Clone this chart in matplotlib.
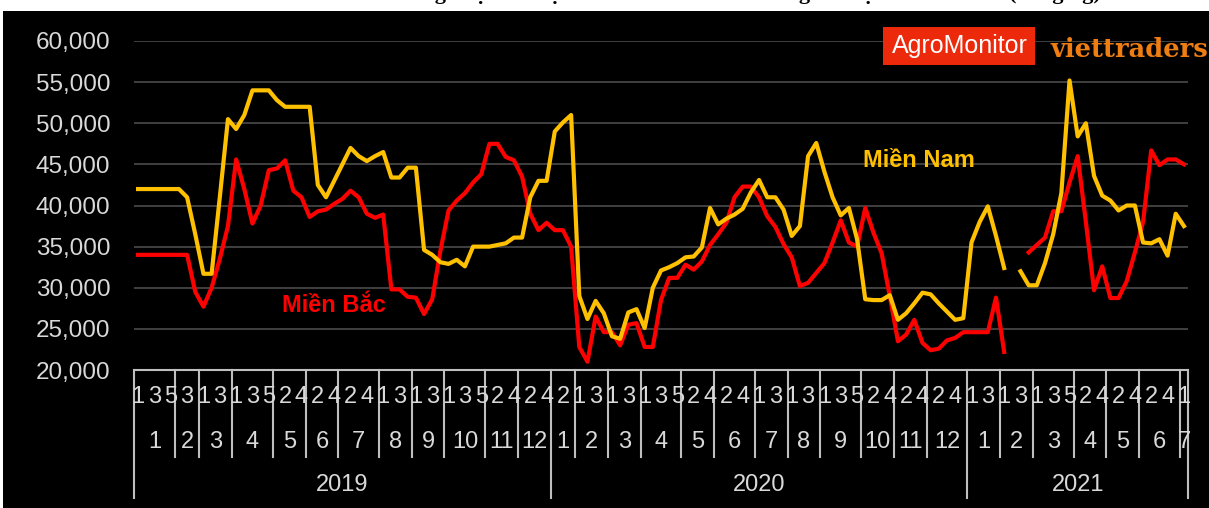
import numpy as np
import matplotlib
matplotlib.use("Agg")
import matplotlib.pyplot as plt
from matplotlib.patches import Rectangle
import matplotlib.transforms as mtransforms

# ---------------- data ----------------
years = ["2019", "2020", "2021"]
weeks_2019 = [[1, 2, 3, 4, 5], [2, 3, 4], [1, 2, 3, 4], [1, 2, 3, 4, 5], [1, 2, 3, 4], [1, 2, 3, 4],
              [1, 2, 3, 4, 5], [1, 2, 3, 4], [1, 2, 3, 4], [1, 2, 3, 4, 5], [1, 2, 3, 4], [1, 2, 3, 4]]
weeks_2020 = [[1, 2, 3], [1, 2, 3, 4], [1, 2, 3, 4], [1, 2, 3, 4, 5], [1, 2, 3, 4], [1, 2, 3, 4, 5],
              [1, 2, 3, 4], [1, 2, 3, 4], [1, 2, 3, 4, 5], [1, 2, 3, 4], [1, 2, 3, 4], [1, 2, 3, 4, 5]]
weeks_2021 = [[1, 2, 3, 4], [1, 2, 3, 4], [1, 2, 3, 4, 5], [1, 2, 3, 4], [1, 2, 3, 4], [1, 2, 3, 4, 5], [1]]
weeks_by_year = [weeks_2019, weeks_2020, weeks_2021]

nan = np.nan
mien_bac = [
    34000, 34000, 34000, 34000, 34000, 34000, 34000, 29500, 27700, 30000,
    33500, 37500, 45600, 42000, 37800, 40000, 44300, 44500, 45500, 41800,
    41000, 38600, 39300, 39500, 40200, 40800, 41800, 41000, 39000, 38500,
    38900, 29800, 29800, 28900, 28800, 26800, 28600, 34500, 39400, 40600,
    41500, 42800, 43800, 47500, 47500, 45900, 45500, 43500, 39000, 37000,
    37900, 37000, 37000, 35000, 22800, 21000, 26500, 24600, 24600, 23000,
    25500, 25700, 22800, 22800, 28500, 31200, 31200, 32800, 32200, 33200,
    35200, 36500, 37900, 41000, 42300, 42300, 41000, 38700, 37400, 35300,
    33700, 30200, 30600, 31800, 33000, 35500, 38200, 35500, 35000, 39700,
    36700, 34200, 29000, 23500, 24300, 26100, 23300, 22400, 22600, 23600,
    23900, 24600, 24600, 24600, 24600, 28800, 22200, nan, nan, 34300,
    35200, 36100, 39300, 39300, 42800, 46000, 38000, 29700, 32600, 28750,
    28750, 30800, 34300, 38000, 46700, 44900, 45600, 45600, 45000]

mien_nam = [
    42000, 42000, 42000, 42000, 42000, 42000, 41000, 36500, 31700, 31700,
    41000, 50500, 49300, 51000, 54000, 54000, 54000, 52800, 52000, 52000,
    52000, 52000, 42500, 41000, 43000, 45000, 47000, 46000, 45400, 46000,
    46500, 43400, 43400, 44600, 44600, 34600, 34000, 33100, 32900, 33400,
    32600, 35000, 35000, 35000, 35200, 35400, 36100, 36100, 41000, 43000,
    43000, 49000, 50100, 51000, 29000, 26200, 28400, 26900, 24100, 23800,
    27000, 27400, 25100, 30000, 32100, 32500, 33000, 33700, 33800, 34900,
    39700, 37700, 38400, 38900, 39600, 41600, 43100, 41000, 41000, 39500,
    36300, 37500, 46000, 47600, 44100, 41000, 38800, 39700, 35900, 28600,
    28500, 28500, 29100, 26100, 26900, 28100, 29400, 29200, 28100, 27100,
    26100, 26300, 35500, 38000, 39900, 36300, 32400, nan, 32000, 30300,
    30300, 33000, 36500, 41500, 55200, 48400, 50000, 43600, 41200, 40600,
    39400, 40000, 40000, 35500, 35400, 35900, 33900, 39000, 37500]

yticks = [20000, 25000, 30000, 35000, 40000, 45000, 50000, 55000, 60000]

# ---------------- build categories ----------------
cats = []  # (year_idx, month_idx, week)
for yi, months in enumerate(weeks_by_year):
    for mi, wk in enumerate(months):
        for w in wk:
            cats.append((yi, mi, w))
n = len(cats)
x = np.arange(n)

# ---------------- figure ----------------
W, H = 1209, 508
fig = plt.figure(figsize=(W / 100, H / 100), dpi=100, facecolor="white")
fig.patches.append(Rectangle((3 / W, 0), 1 - 3 / W, (H - 11) / H, transform=fig.transFigure,
                             facecolor="black", edgecolor="none", zorder=-10))

SANS = "Liberation Sans"
TXT = "#D9D9D9"
FS = 17

# cropped title (only descenders visible, as in the reference)
fig.text(0.595, 1 + 1.5 / H, "Diễn biến giá lợn hơi tại miền Bắc và miền Nam giai đoạn 2019 – 2021 (đồng/kg)",
         ha="center", va="baseline", fontsize=16, fontweight="bold", family="Liberation Serif",
         color="black")

left, right, top, bottom = 134, 1188, 41, 370
ax = fig.add_axes([left / W, (H - bottom) / H, (right - left) / W, (bottom - top) / H])
ax.set_facecolor("none")

ax.plot(x, mien_bac, color="#FF0000", lw=3, solid_joinstyle="round", zorder=3)
ax.plot(x, mien_nam, color="#FFC000", lw=3, solid_joinstyle="round", zorder=4)

ax.set_xlim(-0.5, n - 0.5)
ax.set_ylim(20000, 60000)
ax.set_yticks(yticks)
ax.set_yticklabels([f"{v:,}" for v in yticks], fontsize=17.5, family=SANS, color=TXT)
ax.tick_params(axis="y", length=0, pad=17)
ax.tick_params(axis="x", length=0, labelbottom=False)
ax.grid(axis="y", color="#404040", lw=1.4, zorder=1)
for s in ["top", "right", "left"]:
    ax.spines[s].set_visible(False)
ax.spines["bottom"].set_color("#BFBFBF")
ax.spines["bottom"].set_linewidth(1.5)

trans = mtransforms.blended_transform_factory(ax.transData, ax.transAxes)
y_week, y_month, y_year = -0.081, -0.218, -0.350
y_msep, y_ysep = -0.264, -0.389

# week labels (every second category is shown)
for i, (yi, mi, w) in enumerate(cats):
    if i % 2 == 0:
        ax.text(i, y_week, str(w), transform=trans, ha="center", va="center",
                fontsize=FS, family=SANS, color=TXT, clip_on=False)

# month labels and separators
idx = 0
for yi, months in enumerate(weeks_by_year):
    ystart = idx
    for mi, wk in enumerate(months):
        mstart = idx
        idx += len(wk)
        ax.text((mstart + idx - 1) / 2, y_month, str(mi + 1), transform=trans, ha="center",
                va="center", fontsize=FS, family=SANS, color=TXT, clip_on=False)
        if mstart != ystart:
            ax.plot([mstart - 0.5, mstart - 0.5], [0, y_msep], transform=trans, color="#BFBFBF",
                    lw=1.5, clip_on=False)
    ax.plot([ystart - 0.5, ystart - 0.5], [0, y_ysep], transform=trans, color="#BFBFBF",
            lw=1.5, clip_on=False)
    ax.text((ystart + idx - 1) / 2, y_year, years[yi], transform=trans, ha="center",
            va="center", fontsize=FS, family=SANS, color=TXT, clip_on=False)
ax.plot([n - 0.5, n - 0.5], [0, y_ysep], transform=trans, color="#BFBFBF", lw=1.5, clip_on=False)

# series labels
ax.text(24.0, 27850, "Miền Bắc", color="#FF0000", fontsize=17, fontweight="bold",
        family=SANS, ha="center", va="center")
ax.text(95.6, 45450, "Miền Nam", color="#FFC000", fontsize=17, fontweight="bold",
        family=SANS, ha="center", va="center")

# logos
fig.patches.append(Rectangle((883 / W, (H - 65) / H), 152 / W, 38 / H, transform=fig.transFigure,
                             facecolor="#EC2A0B", edgecolor="none", zorder=5))
fig.text(960 / W, (H - 53) / H, "AgroMonitor", color="white", fontsize=18, family=SANS,
         ha="center", va="baseline", zorder=6)
fig.text(1051 / W, (H - 57) / H, "viettraders", color="#EE7D12", fontsize=18.5, fontweight="bold",
         family="DejaVu Serif", ha="left", va="baseline", zorder=6)

fig.savefig("out.png", dpi=100, facecolor=fig.get_facecolor())
